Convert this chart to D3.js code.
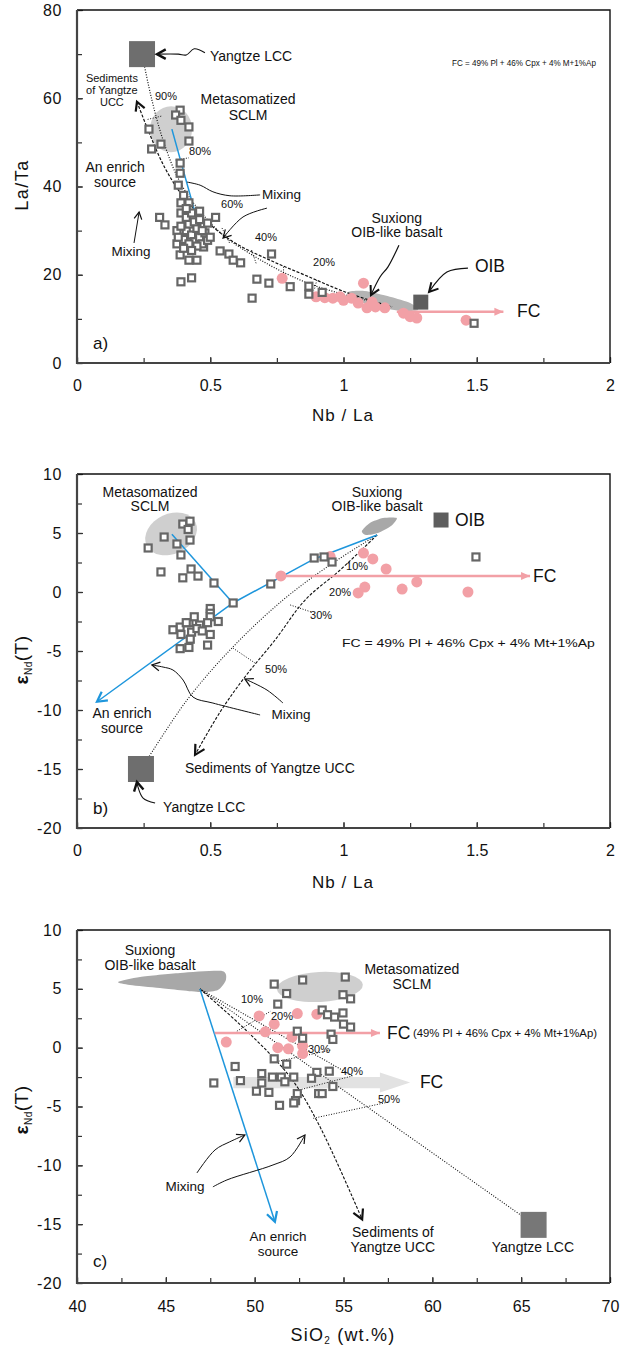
<!DOCTYPE html>
<html>
<head>
<meta charset="utf-8">
<script src="https://cdn.jsdelivr.net/npm/d3@7"></script>
<style>
  body { margin: 0; background: #fff; }
  svg text { font-family: "Liberation Sans", Arial, sans-serif; fill: #111; }
</style>
</head>
<body>
<svg id="fig" width="625" height="1347"></svg>
<script>
// ---------------- panel a) La/Ta vs Nb/La ----------------
const aSquares = [[0.387,57.3],[0.37,56.2],[0.39,55],[0.42,53.5],[0.42,50.3],[0.27,53],[0.315,49.6],[0.28,48.5],
  [0.387,45.3],[0.387,43],[0.38,40.3],[0.39,36.3],[0.42,36.3],[0.39,34],[0.46,34.4],[0.31,33],[0.33,31.3],[0.52,33],
  [0.49,31.7],[0.375,30],[0.375,27],[0.387,24.5],[0.42,23.3],[0.45,23.3],[0.475,26.3],[0.537,25.4],[0.57,24.7],
  [0.586,23.3],[0.614,22.7],[0.73,24.7],[0.675,19],[0.72,18.1],[0.657,14.7],[0.39,18.4],[0.43,19.3],[0.80,17.3],
  [0.87,17.4],[0.87,15.6],[0.92,16],[1.49,9.0],
  [0.40,28],[0.41,30],[0.42,31.5],[0.43,29],[0.44,27.5],[0.45,30.5],[0.46,28.5],[0.47,27],[0.42,27],[0.44,32],
  [0.46,32.5],[0.48,29.5],[0.41,33],[0.43,34],[0.45,26.5],[0.49,27.8],[0.50,28.5],[0.39,31],[0.40,26],[0.47,30],
  [0.43,25.5],[0.38,28.5],[0.41,35],[0.40,38]];
const aCircles = [[0.77,19.2],[0.897,15],[1.075,18.1],[0.96,14.7],[0.987,15],[1.03,14.7],[1.055,13.6],[1.088,12.5],
  [1.12,12.7],[1.155,12.5],[1.107,13.8],[1.225,11.3],[1.25,10.5],[1.275,10.2],[1.46,9.7],[1.0,14.2],[0.93,14.8]];
const aMixLCC = [[0.244,70.0],[0.281,59.6],[0.323,50.5],[0.379,41.9],[0.443,35.8],[0.548,29.0],[0.657,24.5],
  [0.773,20.6],[0.893,17.5],[1.024,15.2],[1.182,12.7]];
const aMixUCC = [[0.225,59.2],[0.274,51.7],[0.330,44.2],[0.394,38.1],[0.480,32.4],[0.593,27.2],[0.724,23.3],
  [0.856,19.9],[1.006,16.1],[1.182,12.7]];
const aTickMarks = [[[0.265,55.2],[0.32,56]],[[0.37,46],[0.42,46.5]],[[0.544,30.6],[0.574,27.0]],
  [[0.655,25.6],[0.672,22.6]],[[0.775,21.8],[0.775,19.2]],[[0.90,18.8],[0.89,16.5]]];
const aPercent = [["90%",0.334,59.6],["80%",0.462,47.1],["60%",0.582,35.1],["40%",0.709,27.6],["20%",0.927,22.0]];
const aBlue = [[0.356,53],[0.48,26]];
const aFC = [[1.2,11.6],[1.6,11.6]];
const aSuxiong = [[1.017,16.1],[1.08,16.3],[1.174,15.0],[1.25,13.6],[1.28,12.0],[1.21,11.8],[1.118,12.9],[1.03,14.5]];
const aSCLM = [0.353,53];
const aLCC = [0.244,70.0];
const aOIB = [1.29,13.8];

// ---------------- panel b) eNd(T) vs Nb/La ----------------
const bSquares = [[0.267,3.73],[0.327,4.66],[0.397,5.76],[0.424,6.0],[0.417,5.3],[0.424,4.4],[0.375,4.07],[0.39,3.14],
  [0.428,1.95],[0.315,1.7],[0.397,1.2],[0.454,1.35],[0.514,0.76],[0.586,-0.93],[0.727,0.68],[0.89,2.88],[0.927,2.97],
  [0.957,2.54],[1.497,2.97],[0.5,-1.4],[0.5,-1.8],[0.5,-2.1],[0.387,-2.97],[0.42,-2.6],[0.44,-2.1],[0.46,-2.8],
  [0.49,-2.6],[0.53,-2.5],[0.39,-3.6],[0.43,-3.4],[0.425,-4.0],[0.387,-4.8],[0.42,-4.7],[0.49,-4.5],[0.5,-3.6],
  [0.41,-2.6],[0.45,-3.1],[0.47,-3.3],[0.36,-3.2]];
const bCircles = [[0.765,1.36],[1.075,3.3],[1.11,2.8],[1.16,1.95],[1.08,0.42],[1.055,-0.08],[1.22,0.25],[1.275,0.85],
  [1.467,0.0],[0.95,3.0]];
const bBlueSCLM = [[0.356,4.9],[0.585,-0.93]];
const bBlueEnrich = [[1.126,4.83],[0.89,2.8],[0.585,-0.93],[0.075,-9.3]];
const bMixLCC = [[1.126,4.83],[0.949,2.29],[0.773,-0.68],[0.585,-4.66],[0.413,-9.15],[0.244,-14.9]];
const bMixUCC = [[1.126,4.83],[0.987,1.86],[0.856,-0.68],[0.743,-4.07],[0.63,-7.2],[0.537,-10.17],[0.443,-13.8]];
const bTickMarks = [[[0.585,-4.75],[0.668,-6.02]],[[0.80,-1.1],[0.88,-1.7]]];
const bPercent = [["10%",1.051,1.86],["20%",0.987,-0.34],["30%",0.916,-2.29],["50%",0.747,-6.86]];
const bFC = [[0.765,1.36],[1.7,1.36]];
const bSuxiong = [[1.069,5.17],[1.099,5.85],[1.148,6.27],[1.2,6.27],[1.178,5.59],[1.129,5.0],[1.084,4.83]];
const bSCLM = [0.353,4.92];
const bLCC = [0.24,-15.0];
const bOIB = [1.366,6.1];

// ---------------- panel c) eNd(T) vs SiO2 ----------------
const cSquares = [[51.1,5.4],[52.7,5.75],[51.8,4.6],[51.3,3.7],[52.4,1.4],[52.7,0.8],[51.1,-0.95],[51.8,-1.4],
  [48.9,-1.6],[49.2,-2.8],[47.7,-3.0],[50.4,-2.2],[51.0,-2.5],[51.5,-2.5],[52.2,-2.5],[51.7,-2.9],[50.4,-3.0],
  [50.1,-3.7],[50.8,-3.8],[52.4,-3.9],[52.3,-4.5],[51.4,-4.9],[52.2,-4.7],[53.5,-2.1],[53.2,-2.6],[53.6,-3.9],
  [55.1,6.0],[54.97,4.5],[55.4,4.15],[53.8,3.2],[54.1,2.8],[54.5,2.6],[54.97,2.95],[55.0,2.0],[55.4,1.75],
  [54.3,1.15],[54.4,0.7],[54.2,-2.0],[54.4,-3.3],[53.8,-3.9]];
const cCircles = [[48.4,0.48],[50.25,2.7],[51.1,2.0],[50.6,1.35],[52.4,2.9],[53.5,2.85],[51.3,0.0],[51.9,-0.1],
  [52.1,0.9],[52.7,0.15],[52.7,-0.5]];
const cBlue = [[46.92,4.99],[51.14,-14.8]];
const cMixLCC = [[46.92,4.99],[56.3,-5.0],[65.7,-15.0]];
const cMixUCC = [[46.92,4.99],[49.5,1.5],[52,-2.5],[53.6,-6.5],[56.05,-14.6]];
const cMixMid = [[46.92,4.99],[55.5,-2.4]];
const cTickMarks = [[[49.0,1.4],[50.9,3.1]],[[51.2,-1.2],[54.3,-0.2]],[[52.5,-3.6],[55.5,-2.4]],[[53.3,-6.0],[57.6,-4.6]]];
const cPercent = [["10%",49.85,3.8],["20%",51.54,2.35],["30%",53.62,-0.45],["40%",55.48,-2.32],["50%",57.56,-4.7]];
const cFC = [[47.75,1.25],[57.05,1.25]];
const cFCband = [[48.8,-2.5],[57.05,-2.5],[57.05,-2.1],[58.75,-2.96],[57.05,-3.8],[57.05,-3.45],[48.8,-3.45]];
const cSuxiong = [[42.31,5.58],[43.55,6.01],[45.8,6.35],[48.16,6.52],[48.38,5.75],[47.93,4.9],[46.92,4.73],
  [44.67,5.07],[42.98,5.33]];
const cSCLM = [53.67,5.16];
const cLCC = [65.7,-15.06];

// ---------------- drawing ----------------
const svg = d3.select("#fig");
const X0 = 77, W = 533;
const GRAY = "#666", PINK = "#f2a0a6", BLUE = "#1e96dc";
const LBL = 14;

function panel(top, h, xdom, ydom) {
  const g = svg.append("g");
  const x = d3.scaleLinear().domain(xdom).range([X0, X0 + W]);
  const y = d3.scaleLinear().domain(ydom).range([top + h, top]);
  return { g, x, y };
}

function axes(p, xMinor, xMajor, yMinor, yMajor, xPad) {
  const { g, x, y } = p;
  const yb = y.range()[0], yt = y.range()[1];
  const fmt = d => String(d);
  const clean = s => { s.select(".domain").remove(); s.selectAll("line").attr("stroke", "#333").attr("stroke-width", 1.2); };
  g.append("g").attr("transform", `translate(0,${yb})`)
    .call(d3.axisBottom(x).tickValues(xMinor).tickSize(-5).tickFormat("")).call(clean);
  g.append("g").attr("transform", `translate(0,${yb})`)
    .call(d3.axisBottom(x).tickValues(xMajor).tickSize(-6).tickPadding(xPad).tickFormat(fmt)).call(clean)
    .selectAll("text").attr("font-size", 16).attr("fill", "#111");
  g.append("g").attr("transform", `translate(${X0},0)`)
    .call(d3.axisLeft(y).tickValues(yMinor).tickSize(-5).tickFormat("")).call(clean);
  g.append("g").attr("transform", `translate(${X0},0)`)
    .call(d3.axisLeft(y).tickValues(yMajor).tickSize(-6).tickPadding(15).tickFormat(fmt)).call(clean)
    .selectAll("text").attr("font-size", 16).attr("fill", "#111").attr("letter-spacing", 0.6);
  // frame
  g.append("path").attr("d", `M${X0},${yt}H${X0 + W}V${yb}`).attr("fill", "none").attr("stroke", "#111").attr("stroke-width", 1.4);
  g.append("path").attr("d", `M${X0},${yt}V${yb}H${X0 + W}`).attr("fill", "none").attr("stroke", "#444").attr("stroke-width", 2.2);
}

function line(p, pts, opt) {
  const l = d3.line().x(d => p.x(d[0])).y(d => p.y(d[1]));
  if (opt.curve) l.curve(d3.curveCatmullRom.alpha(0.5));
  return p.g.append("path").attr("d", l(pts)).attr("fill", "none")
    .attr("stroke", opt.color || "#111").attr("stroke-width", opt.width || 1)
    .attr("stroke-dasharray", opt.dash || null);
}

// open V arrow head at the last point of pts
function vHead(p, pts, opt) {
  const a = pts[pts.length - 2], b = pts[pts.length - 1];
  const x1 = p.x(a[0]), y1 = p.y(a[1]), x2 = p.x(b[0]), y2 = p.y(b[1]);
  const ang = Math.atan2(y2 - y1, x2 - x1), L = opt.len || 9, s = 0.5;
  const d = `M${x2 - L * Math.cos(ang - s)},${y2 - L * Math.sin(ang - s)}L${x2},${y2}L${x2 - L * Math.cos(ang + s)},${y2 - L * Math.sin(ang + s)}`;
  p.g.append("path").attr("d", d).attr("fill", "none").attr("stroke", opt.color || "#111")
    .attr("stroke-width", opt.width || 1.2).attr("stroke-linejoin", "miter");
}

function fArrow(p, pts, color, w, L) {
  line(p, pts, { color: color, width: w });
  const b = pts[1];
  const x2 = p.x(b[0]), y2 = p.y(b[1]);
  p.g.append("path").attr("d", `M${x2},${y2}l${-L},${-L * 0.45}v${L * 0.9}z`).attr("fill", color);
}

function text(p, s, xv, yv, size, anchor) {
  return p.g.append("text").attr("x", p.x(xv)).attr("y", p.y(yv)).attr("font-size", size)
    .attr("text-anchor", anchor || "start").text(s);
}

function squares(p, data) {
  p.g.append("g").selectAll("rect").data(data).join("rect")
    .attr("x", d => p.x(d[0]) - 3.5).attr("y", d => p.y(d[1]) - 3.5).attr("width", 7).attr("height", 7)
    .attr("fill", "#fff").attr("stroke", GRAY).attr("stroke-width", 2.2);
}

function circles(p, data) {
  p.g.append("g").selectAll("circle").data(data).join("circle")
    .attr("cx", d => p.x(d[0])).attr("cy", d => p.y(d[1])).attr("r", 5.5).attr("fill", PINK);
}

function bigSquare(p, c, size, color) {
  p.g.append("rect").attr("x", p.x(c[0]) - size / 2).attr("y", p.y(c[1]) - size / 2)
    .attr("width", size).attr("height", size).attr("fill", color);
}

function blob(p, pts, color) {
  const l = d3.line().x(d => p.x(d[0])).y(d => p.y(d[1])).curve(d3.curveCardinalClosed.tension(0.3));
  p.g.append("path").attr("d", l(pts)).attr("fill", color);
}

function ellipse(p, c, rx, ry, rot, color) {
  p.g.append("ellipse").attr("cx", 0).attr("cy", 0).attr("rx", rx).attr("ry", ry).attr("fill", color)
    .attr("transform", `translate(${p.x(c[0])},${p.y(c[1])}) rotate(${rot})`);
}

function eNdLabel(cy) {
  const t = svg.append("text").attr("transform", `translate(28,${cy}) rotate(-90)`)
    .attr("text-anchor", "middle").attr("font-size", 19).attr("letter-spacing", 0.5);
  t.append("tspan").attr("font-weight", "bold").text("ε");
  t.append("tspan").attr("font-size", 10).attr("dy", 4).text("Nd");
  t.append("tspan").attr("dy", -4).text("(T)");
}

const DOT = "1,1.6", DASH = "3,1.6";

// ======== panel a ========
const pa = panel(10, 353, [0, 2], [0, 80]);
ellipse(pa, aSCLM, 21, 23, 0, "#cfcfcf");
blob(pa, aSuxiong, "#b4b4b4");
line(pa, aMixLCC, { curve: true, dash: DOT, width: 1.2 });
line(pa, aMixUCC, { curve: true, dash: DASH, width: 1.2 });
vHead(pa, [aMixUCC[1], aMixUCC[0]], { len: 10, width: 2.2 });
aTickMarks.forEach(t => line(pa, t, { dash: DOT, width: 1 }));
line(pa, aBlue, { color: BLUE, width: 1.5 });
circles(pa, aCircles);
squares(pa, aSquares);
bigSquare(pa, aLCC, 26, "#6e6e6e");
bigSquare(pa, aOIB, 15, "#5e5e5e");
fArrow(pa, aFC, PINK, 2.5, 9);
aPercent.forEach(d => text(pa, d[0], d[1], d[2], 11, "middle"));
// leaders
const aLeadLCC = [[0.48,70.3],[0.44,71.2],[0.41,69.8],[0.38,70.0],[0.30,70.0]];
line(pa, aLeadLCC, { curve: true, width: 1.1 });
vHead(pa, aLeadLCC.slice(-2), { len: 10, width: 2.4 });
const aLeadMix1 = [[0.214,27.2],[0.233,34.2]];
line(pa, aLeadMix1, { width: 1 }); vHead(pa, aLeadMix1, { len: 8 });
line(pa, [[0.687,38.1],[0.574,37.9],[0.51,38.8],[0.462,40.3],[0.413,41.0]], { curve: true, width: 1 });
const aLeadMix2 = [[0.713,35.1],[0.623,33.1],[0.548,28.3]];
line(pa, aLeadMix2, { curve: true, width: 1 }); vHead(pa, aLeadMix2.slice(-2), { len: 9 });
const aLeadSux = [[1.208,26.7],[1.167,21.8],[1.137,19.5],[1.103,15.4]];
line(pa, aLeadSux, { curve: true, width: 1.2 }); vHead(pa, aLeadSux.slice(-2), { len: 10, width: 2 });
const aLeadOIB = [[1.467,21.5],[1.388,20.6],[1.321,16.1]];
line(pa, aLeadOIB, { curve: true, width: 1.2 }); vHead(pa, aLeadOIB.slice(-2), { len: 10, width: 2 });
text(pa, "Yangtze LCC", 0.499, 68.5, LBL);
text(pa, "FC = 49% Pl + 46% Cpx + 4% M+1%Ap", 1.407, 67.3, 9.5)
  .attr("textLength", 144).attr("lengthAdjust", "spacingAndGlyphs");
text(pa, "Sediments", 0.131, 63.7, 11, "middle");
text(pa, "of Yangtze", 0.131, 61.0, 11, "middle");
text(pa, "UCC", 0.131, 58.2, 11, "middle");
text(pa, "Metasomatized", 0.642, 58.7, LBL, "middle");
text(pa, "SCLM", 0.642, 55.1, LBL, "middle");
text(pa, "An enrich", 0.143, 43.3, LBL, "middle");
text(pa, "source", 0.143, 39.9, LBL, "middle");
text(pa, "Mixing", 0.203, 24.2, 13.5, "middle");
text(pa, "Mixing", 0.694, 37.2, 13.5);
text(pa, "Suxiong", 1.2, 31.7, LBL, "middle");
text(pa, "OIB-like basalt", 1.2, 28.6, LBL, "middle");
text(pa, "OIB", 1.493, 20.6, 17.5);
text(pa, "FC", 1.651, 10.4, 17.5);
text(pa, "a)", 0.06, 3.2, 17);
axes(pa, d3.range(0, 2.01, 0.25), [0, 0.5, 1, 1.5, 2], d3.range(0, 81, 10), [0, 20, 40, 60, 80], 17);
svg.append("text").attr("transform", "translate(28,185) rotate(-90)").attr("text-anchor", "middle")
  .attr("font-size", 18).attr("letter-spacing", 1.5).text("La/Ta");
svg.append("text").attr("x", 343).attr("y", 421).attr("text-anchor", "middle").attr("font-size", 17)
  .attr("letter-spacing", 1).text("Nb / La");

// ======== panel b ========
const pb = panel(474, 354, [0, 2], [-20, 10]);
ellipse(pb, bSCLM, 27, 20, -25, "#cfcfcf");
blob(pb, bSuxiong, "#a8a8a8");
line(pb, bMixLCC, { curve: true, dash: DOT, width: 1.1 });
line(pb, bMixUCC, { curve: true, dash: DASH, width: 1.1 });
vHead(pb, bMixUCC.slice(-2), { len: 11, width: 2.2 });
bTickMarks.forEach(t => line(pb, t, { dash: DOT, width: 1 }));
line(pb, bBlueSCLM, { color: BLUE, width: 1.5 });
line(pb, bBlueEnrich, { color: BLUE, width: 1.5 });
vHead(pb, bBlueEnrich.slice(-2), { len: 11, color: BLUE, width: 2.2 });
fArrow(pb, bFC, PINK, 2.5, 9);
circles(pb, bCircles);
squares(pb, bSquares);
bigSquare(pb, bLCC, 26, "#6e6e6e");
bigSquare(pb, bOIB, 15, "#5e5e5e");
bPercent.forEach(d => text(pb, d[0], d[1], d[2], 11, "middle"));
const bLeadMix1 = [[0.687,-10.42],[0.51,-9.41],[0.435,-8.9],[0.398,-7.46],[0.36,-6.61],[0.323,-6.36],[0.281,-6.19]];
line(pb, bLeadMix1, { curve: true, width: 1 }); vHead(pb, bLeadMix1.slice(-2), { len: 9 });
const bLeadMix2 = [[0.773,-9.41],[0.713,-8.31],[0.63,-7.37]];
line(pb, bLeadMix2, { curve: true, width: 1 }); vHead(pb, bLeadMix2.slice(-2), { len: 9 });
const bLeadLCC = [[0.293,-17.88],[0.248,-17.46],[0.229,-16.53],[0.225,-16.1]];
line(pb, bLeadLCC, { curve: true, width: 1.1 }); vHead(pb, bLeadLCC.slice(-2), { len: 10, width: 2.4 });
text(pb, "Metasomatized", 0.274, 8.05, LBL, "middle");
text(pb, "SCLM", 0.274, 6.86, LBL, "middle");
text(pb, "Suxiong", 1.126, 8.05, LBL, "middle");
text(pb, "OIB-like basalt", 1.126, 6.86, LBL, "middle");
text(pb, "OIB", 1.418, 5.59, 17.5);
text(pb, "FC", 1.711, 0.85, 17.5);
text(pb, "FC = 49% Pl + 46% Cpx + 4% Mt+1%Ap", 0.994, -4.66, 11.5)
  .attr("textLength", 253).attr("lengthAdjust", "spacingAndGlyphs");
text(pb, "An enrich", 0.169, -10.68, LBL, "middle");
text(pb, "source", 0.169, -11.95, LBL, "middle");
text(pb, "Mixing", 0.803, -10.76, 13.5, "middle");
text(pb, "Sediments of Yangtze UCC", 0.405, -15.34, LBL);
text(pb, "Yangtze LCC", 0.323, -18.64, LBL);
text(pb, "b)", 0.06, -18.8, 17);
axes(pb, d3.range(0, 2.01, 0.25), [0, 0.5, 1, 1.5, 2], d3.range(-20, 10.1, 2.5), [-20, -15, -10, -5, 0, 5, 10], 17);
eNdLabel(660);
svg.append("text").attr("x", 343).attr("y", 888).attr("text-anchor", "middle").attr("font-size", 17)
  .attr("letter-spacing", 1).text("Nb / La");

// ======== panel c ========
const pc = panel(930, 353, [40, 70], [-20, 10]);
blob(pc, cSuxiong, "#a8a8a8");
ellipse(pc, cSCLM, 43, 15, -3, "#cfcfcf");
pc.g.append("path").attr("d", d3.line().x(d => pc.x(d[0])).y(d => pc.y(d[1])).curve(d3.curveLinearClosed)(cFCband))
  .attr("fill", "#e2e2e2");
line(pc, cMixLCC, { curve: true, dash: DOT, width: 1.1 });
line(pc, cMixUCC, { curve: true, dash: DASH, width: 1.1 });
vHead(pc, cMixUCC.slice(-2), { len: 11, width: 2.2 });
line(pc, cMixMid, { dash: DOT, width: 1.1 });
cTickMarks.forEach(t => line(pc, t, { dash: DOT, width: 1 }));
line(pc, cBlue, { color: BLUE, width: 1.5 });
vHead(pc, cBlue, { len: 11, color: BLUE, width: 2.2 });
fArrow(pc, cFC, PINK, 2.5, 9);
circles(pc, cCircles);
squares(pc, cSquares);
bigSquare(pc, cLCC, 26, "#777");
cPercent.forEach(d => text(pc, d[0], d[1], d[2], 11, "middle"));
const cLeadMix1 = [[46.75,-10.65],[47.77,-8.69],[48.6,-8.0],[49.45,-7.42]];
line(pc, cLeadMix1, { curve: true, width: 1 }); vHead(pc, cLeadMix1.slice(-2), { len: 9 });
const cLeadMix2 = [[47.65,-11.83],[48.44,-11.24],[51.03,-9.97],[51.99,-9.29],[52.83,-7.42]];
line(pc, cLeadMix2, { curve: true, width: 1 }); vHead(pc, cLeadMix2.slice(-2), { len: 9 });
text(pc, "Suxiong", 44.11, 7.88, LBL, "middle");
text(pc, "OIB-like basalt", 44.11, 6.6, LBL, "middle");
text(pc, "Metasomatized", 58.85, 6.26, LBL, "middle");
text(pc, "SCLM", 58.85, 4.99, LBL, "middle");
text(pc, "FC", 57.45, 0.74, 17.5);
text(pc, "(49% Pl + 46% Cpx + 4% Mt+1%Ap)", 58.91, 0.91, 11)
  .attr("textLength", 184).attr("lengthAdjust", "spacingAndGlyphs");
text(pc, "FC", 59.3, -3.42, 17.5);
text(pc, "Mixing", 46.08, -12.17, 13.5, "middle");
text(pc, "An enrich", 51.31, -16.42, 13.5, "middle");
text(pc, "source", 51.31, -17.7, 13.5, "middle");
text(pc, "Sediments of", 57.78, -16.08, LBL, "middle");
text(pc, "Yangtze UCC", 57.78, -17.36, LBL, "middle");
text(pc, "Yangtze LCC", 65.66, -17.36, LBL, "middle");
text(pc, "c)", 40.9, -18.63, 17);
axes(pc, d3.range(40, 70.1, 2.5), [40, 45, 50, 55, 60, 65, 70], d3.range(-20, 10.1, 2.5), [-20, -15, -10, -5, 0, 5, 10], 18);
eNdLabel(1110);
const xt = svg.append("text").attr("x", 343).attr("y", 1341).attr("text-anchor", "middle").attr("font-size", 18)
  .attr("letter-spacing", 1.2);
xt.append("tspan").text("SiO");
xt.append("tspan").attr("font-size", 10).attr("dy", 3).text("2");
xt.append("tspan").attr("dy", -3).text(" (wt.%)");
</script>
</body>
</html>
